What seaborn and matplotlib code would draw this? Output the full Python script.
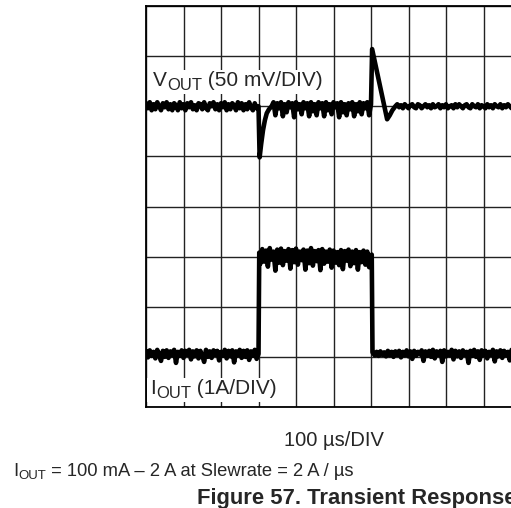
import matplotlib
matplotlib.use("Agg")
import matplotlib.pyplot as plt
from matplotlib.patches import Rectangle
import pandas as pd
import seaborn as sns

# ---------------- data ----------------
# V_OUT deviation in mV (50 mV/DIV), time in microseconds (100 us/DIV)
VOUT_T_PRE = list(range(0, 300, 5))
VOUT_MV_PRE = [3, -2, 4, -4, 2, -3, 4, 0, -4, 3, -1, 4, -3, 2, -4, 3, 1, -4, 4, -2,
               2, -4, 3, -1, 4, -3, 1, -4, 3, 2, -3, 4, -2, -4, 3, 0, 4, -3, 2, -4,
               3, -1, 4, -4, 2, -3, 3, 1, -4, 4, -2, 3, -4, 2, -3, 4, -1, -4, 3, -2]
VOUT_T_STEP = [300, 303, 307, 312, 317, 322, 328, 335]
VOUT_MV_STEP = [0, -51, -38, -24, -14, -7, -3, 0]
VOUT_T_ON = list(range(340, 600, 5))
VOUT_MV_ON = [4, -9, 3, -2, 4, -10, 2, -6, 4, -1, 3, -11, 4, -3, 2, -8, 4, -2, 3, -10,
              4, -5, 2, -9, 4, -2,
              3, -10, 4, -4, 2, -8, 4, -1, 3, -11, 4, -6, 2, -9, 3, -3, 4, -10, 2, -5,
              4, -8, 3, -2, 4, -9]
VOUT_T_REL = [600, 603, 643, 650, 657, 665]
VOUT_MV_REL = [2, 57, -13, -9, -4, 0]
VOUT_T_POST = list(range(670, 990, 5))
VOUT_MV_POST = [2, -1, 1, -2, 2, 0, -2, 1, 2, -1, -2, 2, 1, -2, 0, 2,
                -1, 1, -2, 2, -1, 0, 2, -2, 1, -1, 2, -2, 0, 1, -2, 2,
                -1, 2, 0, -2, 1, 2, -1, -2, 2, 0, -1, 2, -2, 1, 0, -2,
                2, -1, 1, -2, 2, 0, -1, 2, -2, 1, -1, 2, 0, -2, 1, -1]

# I_OUT in A (1 A/DIV)
IOUT_T_PRE = list(range(0, 305, 5))
IOUT_A_PRE = [0.12, -0.01, 0.13, 0.02, 0.10, -0.03, 0.14, 0.04, -0.08, 0.12,
              0.00, 0.13, -0.02, 0.11, 0.03, 0.14, -0.12, 0.10, 0.02, 0.13,
              -0.02, 0.12, 0.04, 0.14, -0.05, 0.11, 0.01, 0.13, -0.03, 0.12,
              0.03, -0.10, 0.14, 0.00, 0.11, -0.02, 0.13, 0.04, 0.12, -0.07,
              0.10, 0.02, 0.14, -0.03, 0.12, 0.01, 0.13, -0.11, 0.11, 0.03,
              0.14, -0.02, 0.12, 0.00, 0.13, -0.06, 0.11, 0.02, 0.14, -0.04,
              0.06]
IOUT_T_ON = [302] + list(range(305, 600, 5)) + [602]
IOUT_A_ON = [2.08, 1.86, 2.15, 1.90, 2.12, 1.80, 2.17, 1.94, 2.10, 1.72,
             2.14, 1.88, 2.16, 1.83, 2.11, 1.92, 2.15, 1.76, 2.13, 1.89,
             2.16, 1.84, 2.10, 1.93, 2.14, 1.74, 2.12, 1.87, 2.17, 1.82,
             2.11, 1.91, 2.13, 1.73, 2.15, 1.86, 2.10, 1.90, 2.14, 1.78,
             2.12, 1.88, 2.09, 1.83, 2.13, 1.75, 2.11, 1.92, 2.14, 1.81,
             2.10, 1.87, 2.13, 1.74, 2.09, 1.89, 2.12, 1.84, 2.10, 1.79,
             2.04]
IOUT_T_POST = [604] + list(range(610, 990, 5))
IOUT_A_POST = [0.09, 0.03, 0.10, 0.02, 0.11, 0.04, 0.09, 0.01, 0.12, 0.03,
               0.10, 0.00, 0.11, 0.04, 0.12, -0.01, 0.10, 0.03, 0.13, 0.01,
               0.11, -0.04, 0.12, 0.02, 0.10, 0.05, 0.13, -0.08, 0.11, 0.02,
               0.12, 0.00, 0.14, -0.03, 0.11, 0.04, 0.12, -0.10, 0.13, 0.01,
               0.10, 0.03, 0.14, -0.05, 0.12, 0.01, 0.11, -0.02, 0.13, 0.04,
               0.10, -0.12, 0.12, 0.02, 0.14, 0.00, 0.11, -0.06, 0.13, 0.03,
               0.12, -0.03, 0.10, 0.04, 0.14, -0.09, 0.11, 0.01, 0.13, -0.02,
               0.12, 0.03, 0.10, -0.07, 0.14, 0.02, 0.11]

XLABEL = "100 µs/DIV"
TITLE = "Figure 57. Transient Response"

# scope settings: units per division and channel offset (in divisions)
VOUT_MV_PER_DIV = 50.0
VOUT_OFFSET_DIV = 6.0
IOUT_A_PER_DIV = 1.0
IOUT_OFFSET_DIV = 1.0

# ---------------- build tables ----------------
vt = VOUT_T_PRE + VOUT_T_STEP + VOUT_T_ON + VOUT_T_REL + VOUT_T_POST
vv = VOUT_MV_PRE + VOUT_MV_STEP + VOUT_MV_ON + VOUT_MV_REL + VOUT_MV_POST
df_v = pd.DataFrame({"t": vt, "mv": vv})
df_v["div"] = VOUT_OFFSET_DIV + df_v["mv"] / VOUT_MV_PER_DIV

it = IOUT_T_PRE + IOUT_T_ON + IOUT_T_POST
ia = IOUT_A_PRE + IOUT_A_ON + IOUT_A_POST
df_i = pd.DataFrame({"t": it, "a": ia})
df_i["div"] = IOUT_OFFSET_DIV + df_i["a"] / IOUT_A_PER_DIV

# ---------------- plot ----------------
sns.set_style("white")
plt.rcParams["font.family"] = ["Liberation Sans", "DejaVu Sans"]

W, H = 511, 508
fig = plt.figure(figsize=(W / 100, H / 100), dpi=100)
ax = fig.add_axes([146 / W, (H - 407) / H, 375 / W, 401 / H])

LW = 3.3
sns.lineplot(data=df_v, x="t", y="div", estimator=None, sort=False,
             color="black", linewidth=LW, ax=ax)
sns.lineplot(data=df_i, x="t", y="div", estimator=None, sort=False,
             color="black", linewidth=LW, ax=ax)

ax.set_xlim(0, 1000)
ax.set_ylim(0, 8)
ax.set_xticks(range(0, 1001, 100))
ax.set_yticks(range(0, 9))
ax.tick_params(length=0, labelbottom=False, labelleft=False)
ax.set_xlabel("")
ax.set_ylabel("")
ax.grid(True, color="#222222", linewidth=1.0)
ax.set_axisbelow(True)
for s in ax.spines.values():
    s.set_color("black")
    s.set_linewidth(1.3)

renderer = fig.canvas.get_renderer()


def draw_pieces(x_px, base_px, pieces, box=False):
    """pieces: (text, fontsize, baseline shift in px, weight)"""
    x = x_px
    bbs = []
    for txt, size, dy, weight in pieces:
        t = fig.text(x / W, 1 - (base_px + dy) / H, txt, fontsize=size,
                     fontweight=weight, va="baseline", ha="left", zorder=6)
        bb = t.get_window_extent(renderer)
        bbs.append(bb)
        x = bb.x1
    if box:
        x0 = min(b.x0 for b in bbs) - 3
        x1 = max(b.x1 for b in bbs) + 2
        y0 = min(b.y0 for b in bbs) - 1
        y1 = max(b.y1 for b in bbs) + 1
        fig.add_artist(Rectangle((x0 / W, y0 / H), (x1 - x0) / W, (y1 - y0) / H,
                                 transform=fig.transFigure, facecolor="white",
                                 edgecolor="none", zorder=5))


LBL = 15.0
SUB = 12.0
draw_pieces(153, 86, [("V", LBL, 0, "normal"), ("OUT", SUB, 4, "normal"),
                      (" (50 mV/DIV)", LBL, 0, "normal")], box=True)
draw_pieces(150, 394, [("I", LBL, 0, "normal"), ("OUT", SUB, 4, "normal"),
                       (" (1A/DIV)", LBL, 0, "normal")], box=True)

fig.text(333.5 / W, 1 - 446 / H, XLABEL, fontsize=14.5, va="baseline",
         ha="center")
draw_pieces(13, 476, [("I", 13.2, 0, "normal"), ("OUT", 9.5, 3, "normal"),
                      (" = 100 mA – 2 A at Slewrate = 2 A / µs", 13.2, 0,
                       "normal")])
fig.text(197 / W, 1 - 504 / H, TITLE, fontsize=15.8, va="baseline",
         ha="left", fontweight="bold")

fig.savefig("out.png", dpi=100)
